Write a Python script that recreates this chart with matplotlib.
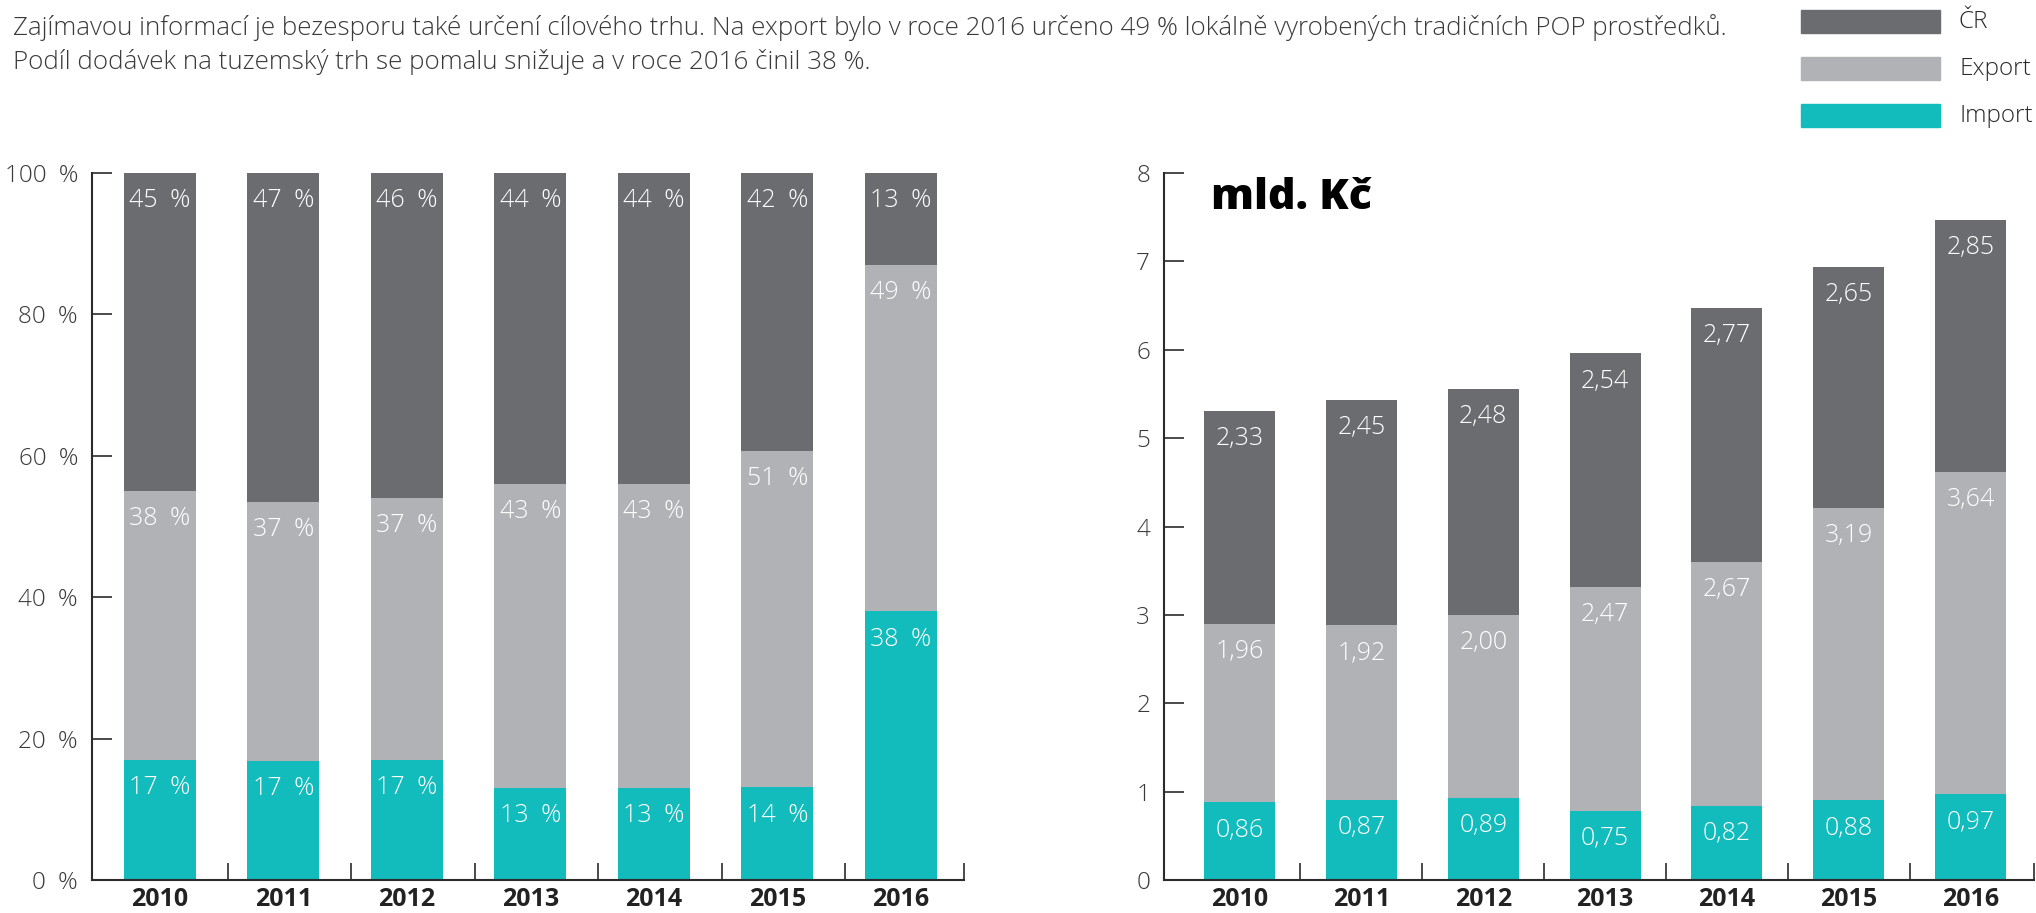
import matplotlib.pyplot as plt
from matplotlib.patches import Rectangle

plt.rcParams['font.family'] = ['Open Sans', 'DejaVu Sans']

# data
roky = ['2010', '2011', '2012', '2013', '2014', '2015', '2016']
serie = ['ČR', 'Export', 'Import']
barvy = {'ČR': '#6b6c70', 'Export': '#b1b2b6', 'Import': '#12bbbc'}

# podíly v % (popisky v grafu)
pct_import = [17, 17, 17, 13, 13, 14, 38]
pct_export = [38, 37, 37, 43, 43, 51, 49]
pct_cr = [45, 47, 46, 44, 44, 42, 13]

# mld. Kč – popisky
lbl_import = [0.86, 0.87, 0.89, 0.75, 0.82, 0.88, 0.97]
lbl_export = [1.96, 1.92, 2.00, 2.47, 2.67, 3.19, 3.64]
lbl_cr = [2.33, 2.45, 2.48, 2.54, 2.77, 2.65, 2.85]

# mld. Kč – výšky sloupců
val_import = [0.88, 0.91, 0.93, 0.78, 0.84, 0.90, 0.97]
val_export = [2.02, 1.97, 2.07, 2.54, 2.76, 3.31, 3.65]
val_cr = [2.41, 2.55, 2.56, 2.64, 2.87, 2.73, 2.85]

text1 = ('Zajímavou informací je bezesporu také určení cílového trhu. Na export bylo v roce 2016 '
         'určeno 49 % lokálně vyrobených tradičních POP prostředků.')
text2 = 'Podíl dodávek na tuzemský trh se pomalu snižuje a v roce 2016 činil 38 %.'

W, H = 2036, 913
fig = plt.figure(figsize=(W / 100, H / 100), dpi=100)

fig.text(13 / W, 1 - 35 / H, text1, fontsize=18.7, color='#3a3a3a', va='baseline',
         fontweight='light')
fig.text(13 / W, 1 - 69 / H, text2, fontsize=18.7, color='#3a3a3a', va='baseline',
         fontweight='light')

# legenda
for i, s in enumerate(serie):
    y0 = 10 + i * 47
    fig.patches.append(Rectangle((1801 / W, 1 - (y0 + 23) / H), 139 / W, 23 / H,
                                 transform=fig.transFigure, color=barvy[s]))
    fig.text(1959 / W, 1 - (y0 + 12) / H, s, fontsize=17.5, color='#2a2a2a', va='center',
             fontweight='light')

ax1 = fig.add_axes([92 / W, 33 / H, 872 / W, 707 / H])
ax2 = fig.add_axes([1164 / W, 33 / H, 870 / W, 707 / H])

x = list(range(len(roky)))
sirka = 0.583
off = -20  # posun popisku pod horní hranu segmentu (pt)
mez = '\u2002'  # širší mezera před %


def popisky(ax, xs, spodky, vysky, texty):
    for xi, b, h, t in zip(xs, spodky, vysky, texty):
        ax.annotate(t, (xi, b + h), xytext=(0, off), textcoords='offset points',
                    ha='center', va='center', color='white', fontsize=18,
                    fontweight='light')


# levý graf – 100% skládaný
soucty = [a + b + c for a, b, c in zip(pct_import, pct_export, pct_cr)]
h_imp = [v / s * 100 for v, s in zip(pct_import, soucty)]
h_exp = [v / s * 100 for v, s in zip(pct_export, soucty)]
h_cr = [v / s * 100 for v, s in zip(pct_cr, soucty)]
b_exp = h_imp
b_cr = [a + b for a, b in zip(h_imp, h_exp)]

ax1.bar(x, h_imp, sirka, color=barvy['Import'])
ax1.bar(x, h_exp, sirka, bottom=b_exp, color=barvy['Export'])
ax1.bar(x, h_cr, sirka, bottom=b_cr, color=barvy['ČR'])
popisky(ax1, x, [0] * 7, h_imp, [f'{v}{mez}%' for v in pct_import])
popisky(ax1, x, b_exp, h_exp, [f'{v}{mez}%' for v in pct_export])
popisky(ax1, x, b_cr, h_cr, [f'{v}{mez}%' for v in pct_cr])

ax1.set_xlim(-0.55, 6.51)
ax1.set_ylim(0, 100)
ax1.set_yticks([0, 20, 40, 60, 80, 100])
ax1.set_yticklabels([f'{v}{mez}%' for v in [0, 20, 40, 60, 80, 100]])
ax1.set_xticks([i + 0.55 for i in range(6)] + [6.51], minor=True)

# pravý graf – mld. Kč
b2_exp = val_import
b2_cr = [a + b for a, b in zip(val_import, val_export)]
ax2.bar(x, val_import, sirka, color=barvy['Import'])
ax2.bar(x, val_export, sirka, bottom=b2_exp, color=barvy['Export'])
ax2.bar(x, val_cr, sirka, bottom=b2_cr, color=barvy['ČR'])
fmt = lambda v: f'{v:.2f}'.replace('.', ',')
popisky(ax2, x, [0] * 7, val_import, [fmt(v) for v in lbl_import])
popisky(ax2, x, b2_exp, val_export, [fmt(v) for v in lbl_export])
popisky(ax2, x, b2_cr, val_cr, [fmt(v) for v in lbl_cr])

ax2.set_xlim(-0.62, 6.52)
ax2.set_ylim(0, 8)
ax2.set_yticks(range(9))
ax2.set_xticks([i + 0.5 for i in range(6)] + [6.52], minor=True)
ax2.text(0.054, 0.949, 'mld. Kč', transform=ax2.transAxes, fontsize=31,
         fontweight='heavy', color='black', va='baseline', ha='left')

for ax in (ax1, ax2):
    ax.set_xticks(x)
    ax.set_xticklabels(roky, fontsize=18, fontweight='bold', color='#222222')
    for s in ('top', 'right'):
        ax.spines[s].set_visible(False)
    for s in ('left', 'bottom'):
        ax.spines[s].set_color('#2b2b2b')
        ax.spines[s].set_linewidth(1.5)
    ax.tick_params(axis='y', direction='in', length=14.5, width=1.2, color='#2b2b2b',
                   labelsize=17.5, labelcolor='#3a3a3a', pad=10)
    ax.tick_params(axis='x', which='major', length=0, pad=5)
    ax.tick_params(axis='x', which='minor', direction='in', length=12, width=1.2,
                   color='#2b2b2b')
    for t in ax.get_yticklabels():
        t.set_fontweight('light')

fig.savefig('out.png', dpi=100)
